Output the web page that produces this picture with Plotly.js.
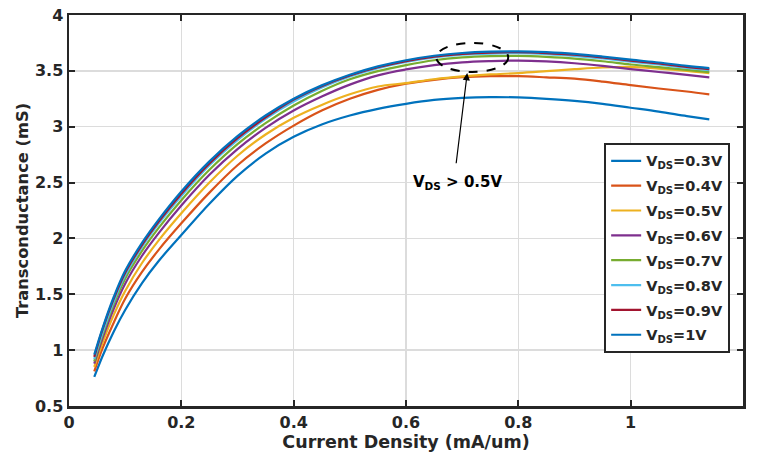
<!DOCTYPE html>
<html>
<head>
<meta charset="utf-8">
<script src="https://cdn.plot.ly/plotly-3.0.1.min.js"></script>
<style>html,body{margin:0;padding:0;background:#fff;}#chart{width:757px;height:455px;}</style>
</head>
<body>
<div id="chart"></div>
<script>
// Current density (mA/um)
const currentDensity = [0.045, 0.06, 0.08, 0.1, 0.13, 0.16, 0.2, 0.25, 0.3, 0.35, 0.4, 0.45, 0.5, 0.55, 0.6, 0.65, 0.7, 0.75, 0.8, 0.85, 0.9, 0.95, 1.0, 1.05, 1.1, 1.14];

// Transconductance (mS) for each VDS
const gm_03 = [0.76, 0.95, 1.17, 1.36, 1.60, 1.80, 2.03, 2.31, 2.56, 2.76, 2.91, 3.02, 3.10, 3.16, 3.205, 3.24, 3.258, 3.265, 3.262, 3.25, 3.232, 3.205, 3.17, 3.135, 3.095, 3.065];
const gm_04 = [0.81, 1.02, 1.25, 1.46, 1.70, 1.90, 2.135, 2.41, 2.655, 2.85, 3.01, 3.145, 3.25, 3.33, 3.385, 3.42, 3.443, 3.452, 3.452, 3.442, 3.43, 3.404, 3.372, 3.342, 3.315, 3.29];
const gm_05 = [0.85, 1.07, 1.32, 1.53, 1.78, 1.985, 2.225, 2.50, 2.74, 2.93, 3.08, 3.195, 3.29, 3.36, 3.39, 3.425, 3.45, 3.468, 3.48, 3.497, 3.515, 3.53, 3.535, 3.52, 3.50, 3.48];
const gm_06 = [0.88, 1.11, 1.375, 1.595, 1.845, 2.05, 2.295, 2.57, 2.80, 2.99, 3.145, 3.27, 3.377, 3.46, 3.513, 3.552, 3.576, 3.587, 3.592, 3.584, 3.568, 3.544, 3.516, 3.49, 3.464, 3.442];
const gm_07 = [0.90, 1.14, 1.415, 1.64, 1.888, 2.096, 2.342, 2.614, 2.844, 3.032, 3.19, 3.32, 3.425, 3.498, 3.552, 3.595, 3.62, 3.631, 3.634, 3.625, 3.61, 3.586, 3.557, 3.533, 3.509, 3.488];
const gm_08 = [0.92, 1.16, 1.44, 1.67, 1.925, 2.135, 2.38, 2.655, 2.88, 3.07, 3.225, 3.35, 3.45, 3.525, 3.58, 3.62, 3.644, 3.655, 3.658, 3.65, 3.635, 3.611, 3.583, 3.557, 3.527, 3.507];
const gm_09 = [0.94, 1.19, 1.465, 1.693, 1.942, 2.152, 2.40, 2.671, 2.897, 3.083, 3.243, 3.363, 3.458, 3.532, 3.587, 3.627, 3.652, 3.664, 3.667, 3.659, 3.644, 3.62, 3.592, 3.566, 3.536, 3.516];
const gm_10 = [0.96, 1.20, 1.48, 1.71, 1.96, 2.17, 2.42, 2.69, 2.915, 3.10, 3.25, 3.37, 3.465, 3.54, 3.595, 3.635, 3.66, 3.672, 3.675, 3.667, 3.652, 3.628, 3.60, 3.575, 3.545, 3.525];

const seriesNames = ['V<sub>DS</sub>=0.3V','V<sub>DS</sub>=0.4V','V<sub>DS</sub>=0.5V','V<sub>DS</sub>=0.6V','V<sub>DS</sub>=0.7V','V<sub>DS</sub>=0.8V','V<sub>DS</sub>=0.9V','V<sub>DS</sub>=1V'];
const seriesValues = [gm_03, gm_04, gm_05, gm_06, gm_07, gm_08, gm_09, gm_10];
const seriesColors = ['#0072BD','#D95319','#EDB120','#7E2F8E','#77AC30','#4DBEEE','#A2142F','#0072BD'];

const xTicks = [0, 0.2, 0.4, 0.6, 0.8, 1, 1.2];
const xTickText = ['0', '0.2', '0.4', '0.6', '0.8', '1', '1.2'];
const yTicks = [0.5, 1, 1.5, 2, 2.5, 3, 3.5, 4];
const yTickText = ['0.5', '1', '1.5', '2', '2.5', '3', '3.5', '4'];

const annotationText = 'V<sub>DS</sub> &gt; 0.5V';

const traces = seriesValues.map((vals, i) => ({
  x: currentDensity,
  y: vals,
  type: 'scatter',
  mode: 'lines',
  name: seriesNames[i],
  legendgroup: 'g' + i,
  line: {color: seriesColors[i], width: 2.2, shape: 'spline', smoothing: 1}
}));

const tickFont = {family: 'DejaVu Sans', size: 16, color: '#262626', weight: 'bold'};

const layout = {
  width: 757,
  height: 455,
  margin: {l: 69, r: 14, t: 15, b: 49},
  paper_bgcolor: '#ffffff',
  plot_bgcolor: '#ffffff',
  showlegend: true,
  font: {family: 'DejaVu Sans', color: '#262626'},
  xaxis: {
    range: [0, 1.2],
    tickvals: xTicks,
    ticktext: xTickText,
    ticks: 'inside',
    ticklen: 6,
    tickwidth: 2,
    tickcolor: '#262626',
    showline: true,
    linecolor: '#262626',
    linewidth: 2.5,
    mirror: 'ticks',
    showgrid: true,
    gridcolor: '#dcdcdc',
    gridwidth: 1.5,
    zeroline: false,
    tickfont: tickFont,
    title: {text: 'Current Density (mA/um)', font: {family: 'DejaVu Sans', size: 17.5, color: '#262626', weight: 'bold'}, standoff: 3}
  },
  yaxis: {
    range: [0.5, 4],
    tickvals: yTicks,
    ticktext: yTickText,
    ticks: 'inside',
    ticklen: 6,
    tickwidth: 2,
    tickcolor: '#262626',
    showline: true,
    linecolor: '#262626',
    linewidth: 2.5,
    mirror: 'ticks',
    showgrid: true,
    gridcolor: '#dcdcdc',
    gridwidth: 1.5,
    zeroline: false,
    tickfont: tickFont,
    title: {text: 'Transconductance (mS)', font: {family: 'DejaVu Sans', size: 16.3, color: '#262626', weight: 'bold'}, standoff: 3}
  },
  legend: {
    x: 0.794, y: 0.673,
    xanchor: 'left', yanchor: 'top',
    bgcolor: '#ffffff',
    bordercolor: '#262626',
    borderwidth: 2,
    font: {family: 'DejaVu Sans', size: 14.5, color: '#262626', weight: 'bold'},
    tracegroupgap: 3,
    itemwidth: 30
  },
  shapes: [{
    type: 'circle',
    xref: 'x', yref: 'y',
    x0: 0.654, x1: 0.782,
    y0: 3.49, y1: 3.75,
    line: {color: '#000000', width: 2, dash: 'dash'}
  }],
  annotations: [
    {
      x: 0.709, y: 3.48, xref: 'x', yref: 'y',
      ax: 0.689, ay: 2.66, axref: 'x', ayref: 'y',
      text: '', showarrow: true,
      arrowhead: 2, arrowsize: 1.2, arrowwidth: 1.2, arrowcolor: '#000000'
    },
    {
      x: 0.692, y: 2.5, xref: 'x', yref: 'y',
      text: annotationText, showarrow: false,
      font: {family: 'DejaVu Sans', size: 15, color: '#000000', weight: 'bold'}
    }
  ]
};

Plotly.newPlot('chart', traces, layout, {displayModeBar: false, staticPlot: true});
</script>
</body>
</html>
